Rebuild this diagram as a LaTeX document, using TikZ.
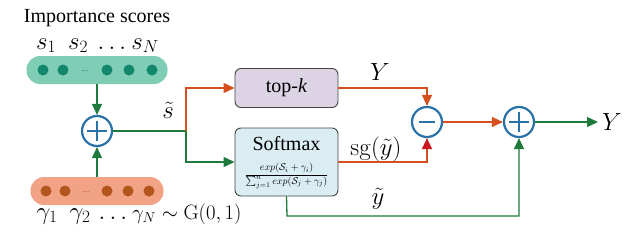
\documentclass[tikz,border=0pt]{standalone}
\usepackage[no-math]{fontspec}
\setmainfont{Liberation Serif}
\usetikzlibrary{arrows.meta}
\definecolor{tealfill}{HTML}{7FCDB5}
\definecolor{tealdot}{HTML}{12876B}
\definecolor{orfill}{HTML}{F2A385}
\definecolor{ordot}{HTML}{B2561E}
\definecolor{gline}{HTML}{1D7A3C}
\definecolor{oline}{HTML}{D4501E}
\definecolor{rline}{HTML}{C81A1E}
\definecolor{cblue}{HTML}{2872A8}
\definecolor{lav}{HTML}{DCD4E4}
\definecolor{lblue}{HTML}{D9EDF3}
\definecolor{bordergray}{HTML}{444444}
\begin{document}
\begin{tikzpicture}[x=1pt,y=-1pt,
  font=\fontsize{20}{24}\selectfont,
  arr/.style={-{Triangle[length=11pt,width=10pt]}, line width=1.3pt},
  wire/.style={line width=1.3pt},
  pill/.style={rounded corners=13.5pt, minimum height=28pt, inner sep=0pt},
  opcircle/.style={circle, draw=cblue, line width=2.2pt, fill=white, minimum size=30pt, inner sep=0pt},
  plussign/.style={opcircle, path picture={
      \draw[cblue, line width=2pt] ([xshift=-10pt]path picture bounding box.center) -- ([xshift=10pt]path picture bounding box.center);
      \draw[cblue, line width=2pt] ([yshift=-10pt]path picture bounding box.center) -- ([yshift=10pt]path picture bounding box.center);}},
  minussign/.style={opcircle, path picture={
      \draw[cblue, line width=2pt] ([xshift=-8pt]path picture bounding box.center) -- ([xshift=8pt]path picture bounding box.center);}},
  opbox/.style={draw=bordergray, line width=0.9pt, rounded corners=6pt, minimum width=103pt, inner sep=0pt},
  lbl/.style={inner sep=0pt},
  mlbl/.style={inner sep=0pt, font=\fontsize{24}{28}\selectfont}
]
\useasboundingbox (0,0) rectangle (629,241);

% title and score labels
\node[lbl] (title) at (97,18) {Importance scores};
\node[mlbl, anchor=base] (s1) at (46,49) {$s_1$};
\node[mlbl, anchor=base] (s2) at (78,49) {$s_2$};
\node[mlbl, anchor=base] (sd) at (112,49) {$\ldots$};
\node[mlbl, anchor=base] (sN) at (145,49) {$s_N$};

% teal pill
\node[pill, fill=tealfill, minimum width=141pt] (pillS) at (97,70) {};
\foreach \x in {43,63,107,129,152} \fill[tealdot] (\x,70) circle (5.5pt);
\node[lbl, text=tealdot, font=\fontsize{9}{10}\selectfont] (pillSdots) at (85,71) {...};

% orange pill
\node[pill, fill=orfill, minimum width=133pt] (pillG) at (97,191) {};
\foreach \x in {46,65,107,128,149} \fill[ordot] (\x,191) circle (5.5pt);
\node[lbl, text=ordot, font=\fontsize{9}{10}\selectfont] (pillGdots) at (86,192) {...};

% gamma labels
\node[mlbl, anchor=base] (g1) at (47,219) {$\gamma_1$};
\node[mlbl, anchor=base] (g2) at (80,219) {$\gamma_2$};
\node[mlbl, anchor=base] (gd) at (113,219) {$\ldots$};
\node[mlbl, anchor=base west, font=\fontsize{22}{26}\selectfont] (gN) at (132,219) {$\gamma_N \sim \mathrm{G}(0,1)$};

% first adder
\node[plussign] (plusA) at (97,131) {};

% boxes
\node[opbox, fill=lav, minimum height=39pt] (topk) at (286.5,88) {};
\node[lbl] (topklbl) at (286.5,88) {top-\textit{k}};
\node[opbox, fill=lblue, minimum height=68pt] (soft) at (286.5,162) {};
\node[lbl] (softlbl) at (286.5,144) {Softmax};
\node[lbl, font=\fontsize{10}{12}\selectfont] (frac) at (286.5,176)
  {$\displaystyle\frac{exp(\mathcal{S}_i+\gamma_i)}{\textstyle\sum_{j=1}^{n} exp(\mathcal{S}_j+\gamma_j)}$};

% minus and second adder
\node[minussign] (minus) at (427,122) {};
\node[plussign] (plusB) at (519,122) {};

% coordinates
\coordinate (j) at (186,131);
\coordinate (b) at (287,216);
\coordinate (out) at (598,122);

% connectors
\draw[arr, gline] (pillS.south) -- (plusA.north);
\draw[arr, gline] (pillG.north) -- (plusA.south);
\draw[wire, gline] (plusA.east) -- (j);
\draw[arr, oline] (j) |- (topk.west);
\draw[arr, gline] (j) |- (soft.west);
\draw[arr, oline] (topk.east) -| (minus.north);
\draw[wire, oline, -{Triangle[length=11pt,width=10pt,color=rline]}] (soft.east) -| (minus.south);
\draw[arr, oline] (minus.east) -- (plusB.west);
\draw[arr, gline] (plusB.east) -- (out);
\draw[arr, gline] (soft.south) -- (b) -| (plusB.south);

% connector labels
\node[mlbl] (stilde) at (168,110) {$\tilde{s}$};
\node[mlbl] (Ytop) at (380,72) {$Y$};
\node[mlbl] (sg) at (376,149) {$\mathrm{sg}(\tilde{y})$};
\node[mlbl, font=\fontsize{26}{30}\selectfont] (ytilde) at (378,199) {$\tilde{y}$};
\node[mlbl, anchor=west] (Yout) at (602,122) {$Y$};
\end{tikzpicture}
\end{document}
